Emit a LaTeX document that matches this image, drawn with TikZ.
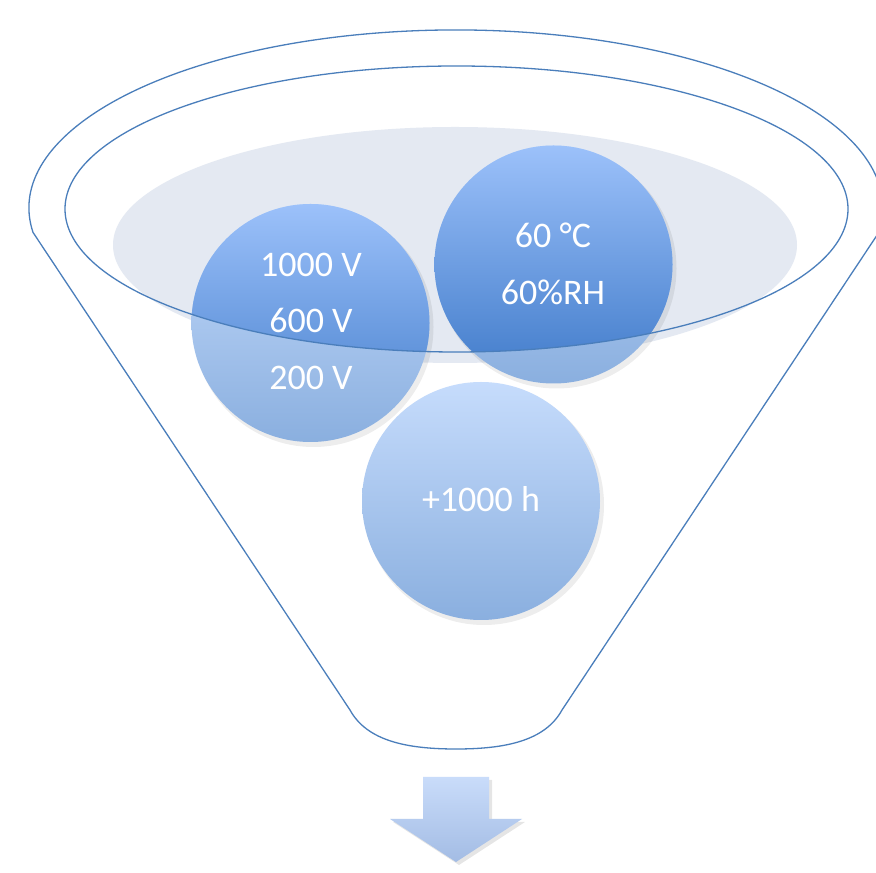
\documentclass[tikz,border=0pt]{standalone}
\usepackage{fontspec}
\setmainfont{Carlito}
\definecolor{funnelline}{HTML}{4A7EBB}
\definecolor{greyfill}{HTML}{E4E9F2}
\definecolor{intop}{HTML}{9CC1FA}
\definecolor{inbot}{HTML}{3F7AC9}
\definecolor{outtop}{HTML}{C6DCFC}
\definecolor{outbot}{HTML}{8AAFDF}
\definecolor{arrtop}{HTML}{C9DCFA}
\definecolor{arrbot}{HTML}{A3BCE4}
\begin{document}
\begin{tikzpicture}[x=1pt,y=1pt,
  funnel/.style={draw=funnelline, line width=1.3pt, line join=round},
  bubble/.style={circle, minimum size=238pt, inner sep=0pt, top color=outtop, bottom color=outbot, draw=none},
  bubblein/.style={circle, minimum size=238pt, inner sep=0pt, top color=intop, bottom color=inbot, draw=none},
  bshadow/.style={circle, minimum size=240pt, inner sep=0pt, fill=black, fill opacity=0.07, draw=none},
  label/.style={text=white, font=\fontsize{36}{40}\selectfont, anchor=base, inner sep=0pt}]
\useasboundingbox (0,0) rectangle (876,873);
\fill[white] (0,0) rectangle (876,873);

% funnel outline
\draw[funnel] (33,640.6) arc[start angle=187.9, end angle=-7.9, x radius=427, y radius=178]
  -- (562,163) .. controls (545,132) and (505,124) .. (456,124)
  .. controls (407,124) and (367,132) .. (350,163) -- cycle;

% grey surface
\fill[greyfill] (455,628) ellipse [x radius=342, y radius=118];

% shadows
\node[bshadow] (s1) at (313.5,546) {};
\node[bshadow] (s2) at (556.5,604.5) {};
\node[bshadow] (s3) at (484,368) {};

% circles (outside part)
\node[bubble] (c1) at (310.5,550) {};
\node[bubble] (c2) at (553.5,608.5) {};
\node[bubble] (c3) at (481,372) {};

% circles (inside the funnel mouth)
\begin{scope}
  \clip (456.5,664) ellipse [x radius=391.5, y radius=143];
  \node[bubblein] (c1in) at (c1.center) {};
  \node[bubblein] (c2in) at (c2.center) {};
\end{scope}

% inner rim
\draw[funnel] (456.5,664) ellipse [x radius=391.5, y radius=143];

% texts
\node[label] (t1a) at (311,596) {1000 V};
\node[label] (t1b) at (311,540) {600 V};
\node[label] (t1c) at (311,483) {200 V};
\node[label] (t2a) at (553,625) {60 °C};
\node[label] (t2b) at (553,568) {60\%RH};
\node[label] (t3a) at (481,361) {+1000 h};

% down arrow
\fill[black, opacity=0.10] (426,93) -- (492,93) -- (492,51) -- (525,51) -- (459,8) -- (393,51) -- (426,51) -- cycle;
\shade[top color=arrtop, bottom color=arrbot] (423,96) -- (489,96) -- (489,54) -- (522,54) -- (456,11) -- (390,54) -- (423,54) -- cycle;
\end{tikzpicture}
\end{document}
